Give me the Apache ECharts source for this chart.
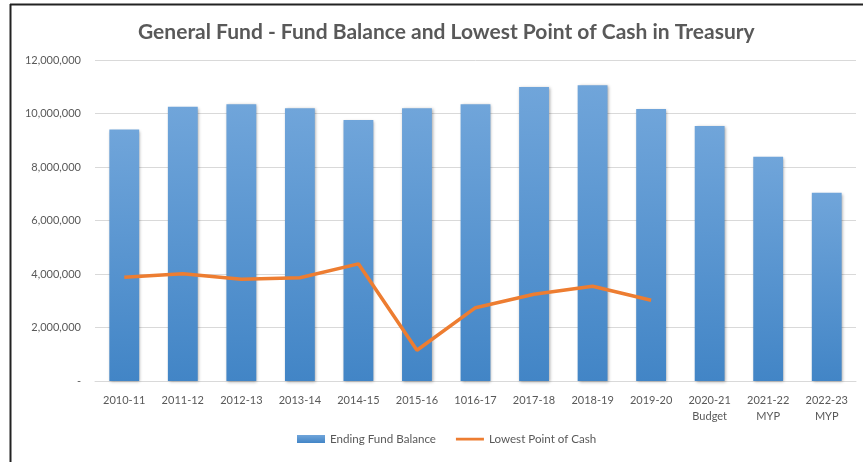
<!DOCTYPE html>
<html>
<head>
<meta charset="utf-8">
<script src="https://cdn.jsdelivr.net/npm/echarts@6/dist/echarts.min.js"></script>
<style>
  html, body { margin: 0; padding: 0; background: #fff; }
  #chart { width: 863px; height: 462px; }
</style>
</head>
<body>
<div id="chart"></div>
<script>
// fiscal years on the x axis
var years = ['2010-11', '2011-12', '2012-13', '2013-14', '2014-15', '2015-16', '1016-17',
  '2017-18', '2018-19', '2019-20', '2020-21\nBudget', '2021-22\nMYP', '2022-23\nMYP']
// ending fund balance (bars)
var fundBalance = [9400000, 10250000, 10350000, 10200000, 9760000, 10200000, 10350000,
  10990000, 11060000, 10170000, 9530000, 8380000, 7040000]
// lowest point of cash (line), no data for budget / MYP years
var lowestCash = [3880000, 4010000, 3800000, 3860000, 4380000, 1150000, 2740000,
  3240000, 3540000, 3020000, null, null, null]

var txt = '#595959'
var font = 'Lato'

var chart = echarts.init(document.getElementById('chart'))
chart.setOption({
  animation: false,
  backgroundColor: '#fff',
  textStyle: { fontFamily: font },
  title: {
    text: 'General Fund - Fund Balance and Lowest Point of Cash in Treasury',
    left: 133,
    top: 17,
    textStyle: { fontFamily: font, fontSize: 21, fontWeight: 'bold', color: txt }
  },
  grid: { left: 95, right: 7, top: 60, bottom: 81 },
  legend: {
    bottom: 12,
    left: 292,
    itemWidth: 28,
    itemHeight: 8,
    itemGap: 20,
    textStyle: { fontFamily: font, fontSize: 11.6, color: txt },
    data: [
      { name: 'Ending Fund Balance', icon: 'rect' },
      // thin bar icon, tiny corner dots keep the 28x8 box
      { name: 'Lowest Point of Cash', icon: 'path://M0,0h0.01v0.01h-0.01z M0,2.8h28v2.6h-28z M27.99,7.99h0.01v0.01h-0.01z' }
    ]
  },
  xAxis: {
    type: 'category',
    data: years,
    axisLine: { lineStyle: { color: '#d9d9d9', width: 1 } },
    axisTick: { show: false },
    axisLabel: { color: txt, fontSize: 11, margin: 11, lineHeight: 16, interval: 0 }
  },
  yAxis: {
    type: 'value',
    min: 0,
    max: 12000000,
    interval: 2000000,
    axisLine: { show: false },
    axisTick: { show: false },
    splitLine: { lineStyle: { color: '#d9d9d9' } },
    axisLabel: {
      color: txt,
      fontSize: 11,
      margin: 14,
      formatter: function (v) { return v === 0 ? '-' : v.toLocaleString('en-US') }
    }
  },
  series: [
    {
      name: 'Ending Fund Balance',
      type: 'bar',
      data: fundBalance,
      barWidth: '51%',
      itemStyle: {
        color: new echarts.graphic.LinearGradient(0, 0, 0, 1, [
          { offset: 0, color: '#70a5da' },
          { offset: 1, color: '#4285c6' }
        ]),
        shadowBlur: 3,
        shadowColor: 'rgba(0,0,0,0.35)',
        shadowOffsetX: 1,
        shadowOffsetY: 1
      }
    },
    {
      name: 'Lowest Point of Cash',
      type: 'line',
      data: lowestCash,
      symbol: 'none',
      lineStyle: { color: '#ed7d31', width: 3.5 },
      itemStyle: { color: '#ed7d31' }
    }
  ],
  graphic: [
    { type: 'line', shape: { x1: 10, y1: 4.5, x2: 863, y2: 4.5 }, style: { stroke: '#222', lineWidth: 2 } },
    { type: 'line', shape: { x1: 10.5, y1: 4, x2: 10.5, y2: 462 }, style: { stroke: '#222', lineWidth: 2 } }
  ]
})
</script>
</body>
</html>
